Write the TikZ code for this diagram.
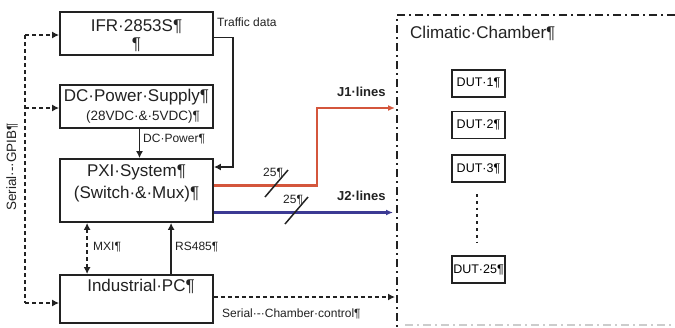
\documentclass[tikz,border=0pt]{standalone}
\usepackage{fontspec}
\setmainfont{Liberation Sans}
\usetikzlibrary{arrows.meta}
\definecolor{jred}{HTML}{D4563C}
\definecolor{jblue}{HTML}{3C3A94}
\definecolor{ink}{HTML}{222222}
\tikzset{
  box/.style={draw=ink, line width=1.8pt, minimum width=153pt, inner sep=0pt},
  dutbox/.style={draw=ink, line width=1.5pt, minimum width=53pt, minimum height=27pt, inner sep=0pt, font=\fontsize{12.5}{14}\selectfont},
  big/.style={font=\fontsize{17}{20}\selectfont, inner sep=0pt, text=ink},
  mid/.style={font=\fontsize{13.5}{16}\selectfont, inner sep=0pt, text=ink},
  small/.style={font=\fontsize{12}{14}\selectfont, inner sep=0pt, text=ink},
  bsmall/.style={font=\bfseries\fontsize{13}{15}\selectfont, inner sep=0pt, text=ink},
  arr/.style={draw=ink, line width=1.8pt, -{Latex[length=7pt,width=7pt]}},
  dasharr/.style={draw=ink, line width=1.5pt, dash pattern=on 4pt off 3pt, -{Latex[length=7pt,width=7pt]}},
  dashln/.style={draw=ink, line width=1.5pt, dash pattern=on 4pt off 3pt},
  chamber/.style={draw=ink, line width=2.2pt, dash pattern=on 8pt off 4pt on 2pt off 4pt},
}
\begin{document}
\begin{tikzpicture}[x=1pt,y=-1pt]
\useasboundingbox (0,0) rectangle (675,327);
\fill[white] (0,0) rectangle (675,327);

% main boxes
\node[box, minimum height=43pt] (ifr) at (136.5,33.5) {};
\node[big] (ifrt1) at (136.5,27) {IFR·2853S¶};
\node[big] (ifrt2) at (136.5,45) {¶};

\node[box, minimum height=43pt] (dc) at (136.5,106.5) {};
\node[big] (dct1) at (136.5,97) {DC·Power·Supply¶};
\node[mid] (dct2) at (143,117) {(28VDC·\&·5VDC)¶};

\node[box, minimum height=63pt] (pxi) at (136.5,190.5) {};
\node[big] (pxit1) at (136.5,172) {PXI·System¶};
\node[big] (pxit2) at (136.5,194) {(Switch·\&·Mux)¶};

\node[box, minimum height=48pt] (ipc) at (136.5,299) {};
\node[big] (ipct) at (141,286) {Industrial·PC¶};

% traffic data
\coordinate (tr1) at (233,37.5);
\coordinate (tr2) at (233,167);
\draw[arr] ([yshift=-4pt]ifr.east) -- (tr1) -- (tr2) -- (pxi.east |- tr2);
\node[small, anchor=west] (trl) at (217,22) {Traffic data};

% DC power
\draw[arr] ([xshift=3pt]dc.south) -- ([xshift=3pt]pxi.north);
\node[small, anchor=west] (dcl) at (143,139) {DC·Power¶};

% MXI and RS485
\draw[dashln, {Latex[length=7pt,width=7pt]}-{Latex[length=7pt,width=7pt]}] ([xshift=28pt]pxi.south west) -- ([xshift=28pt]ipc.north west);
\node[small, anchor=west] (mxil) at (93,247) {MXI¶};
\draw[arr] ([xshift=112pt]ipc.north west) -- ([xshift=112pt]pxi.south west);
\node[small, anchor=west] (rsl) at (175,247) {RS485¶};

% Serial - GPIB
\coordinate (gtop) at (25,35);
\coordinate (gmid) at (25,108);
\coordinate (gbot) at (25,303);
\draw[dashln] (gtop) -- (gbot);
\draw[dasharr] (gtop) -- (ifr.west |- gtop);
\draw[dasharr] (gmid) -- (dc.west |- gmid);
\draw[dasharr] (gbot) -- (ipc.west |- gbot);
\node[font=\fontsize{13.5}{16}\selectfont, inner sep=0pt, text=ink, rotate=90] (gpl) at (12,167) {Serial·-·GPIB¶};

% climatic chamber
\coordinate (chtl) at (397,15);
\coordinate (chtr) at (675,15);
\coordinate (chbl) at (397,327);
\draw[chamber] (chtr) -- (chtl) -- (chbl);
\draw[chamber, draw=gray!40] (405,325) -- (675,325);
\node[big, anchor=west] (cht) at (410,33) {Climatic·Chamber¶};

\node[dutbox] (dut1) at (478.5,83.5) {DUT·1¶};
\node[dutbox] (dut2) at (478.5,125) {DUT·2¶};
\node[dutbox] (dut3) at (478.5,168.5) {DUT·3¶};
\node[dutbox] (dut25) at (478.5,269.5) {DUT·25¶};
\coordinate (dots1) at (477,194);
\coordinate (dots2) at (477,243);
\draw[draw=ink, line width=2.8pt, dash pattern=on 2.8pt off 4pt] (dots1) -- (dots2);

% J1 / J2 lines
\coordinate (j1a) at (317,185.5);
\coordinate (j1b) at (317,108);
\coordinate (j1e) at (395,108);
\draw[line width=2.2pt, draw=jred, -{Latex[length=7pt,width=6pt]}] ([yshift=5pt]pxi.east) -- (j1a) -- (j1b) -- (j1e);
\node[bsmall, anchor=west] (j1l) at (337,92) {J1·lines};

\coordinate (j2e) at (393,212.5);
\draw[line width=2.2pt, draw=jblue, -{Latex[length=7pt,width=6pt]}] ([yshift=-22pt]pxi.east) -- (j2e);
\node[bsmall, anchor=west] (j2l) at (337,196) {J2·lines};

% bus widths
\coordinate (s1a) at (265,197);
\coordinate (s1b) at (288,170);
\draw[draw=ink, line width=1.5pt] (s1a) -- (s1b);
\node[small, anchor=west] (n25a) at (263,173) {25¶};
\coordinate (s2a) at (285,224);
\coordinate (s2b) at (308,197);
\draw[draw=ink, line width=1.5pt] (s2a) -- (s2b);
\node[small, anchor=west] (n25b) at (283,200) {25¶};

% chamber control
\coordinate (cce) at (395,297);
\draw[dasharr] ([yshift=2pt]ipc.east) -- (cce);
\node[small, anchor=west] (ccl) at (222,314) {Serial·-·Chamber·control¶};
\end{tikzpicture}
\end{document}
